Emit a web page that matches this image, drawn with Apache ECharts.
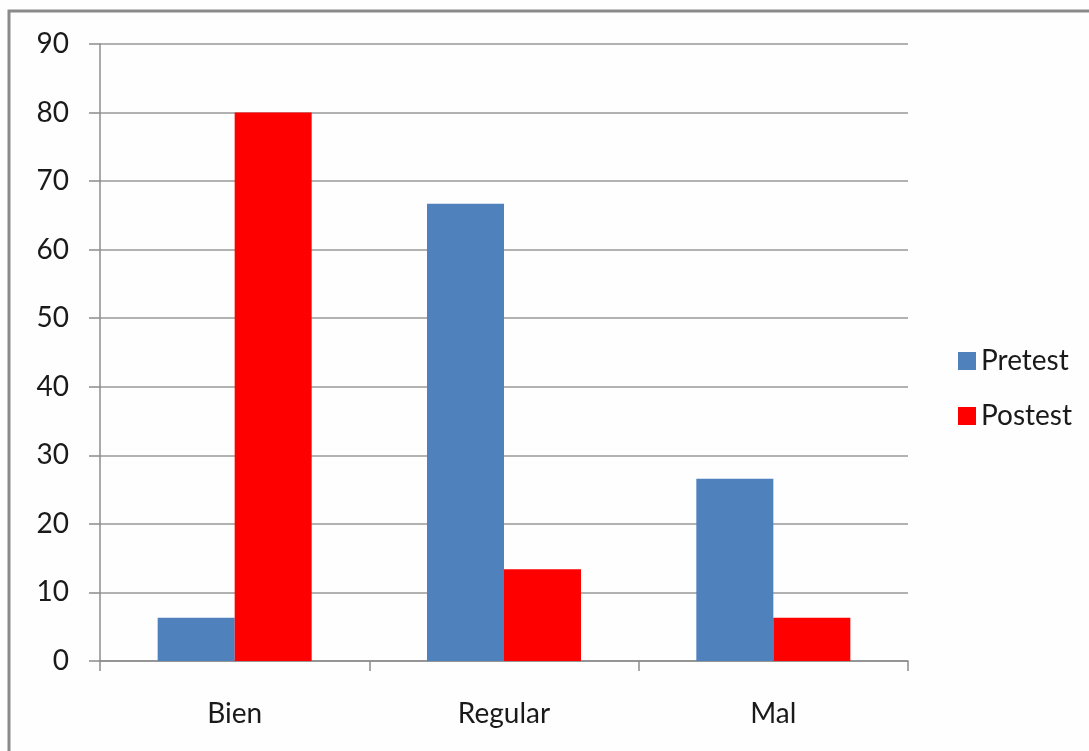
<!DOCTYPE html>
<html>
<head>
<meta charset="utf-8">
<script src="https://cdn.jsdelivr.net/npm/echarts@6/dist/echarts.min.js"></script>
<style>
  html, body { margin: 0; padding: 0; background: #fefefe; }
  #chart { width: 1089px; height: 751px; }
</style>
</head>
<body>
<div id="chart"></div>
<script>
// datos
const categories = ["Bien", "Regular", "Mal"];
const pretest = [6.3, 66.7, 26.6];
const postest = [80, 13.4, 6.3];
const yTicks = { min: 0, max: 90, interval: 10 };

const chart = echarts.init(document.getElementById("chart"));
const font = "Lato, 'Open Sans', sans-serif";

const option = {
  backgroundColor: "#fefefe",
  animation: false,
  // marco exterior
  graphic: [
    {
      type: "rect",
      shape: { x: 9, y: 11, width: 1100, height: 760 },
      style: { fill: "none", stroke: "#8a8a8a", lineWidth: 3 },
    },
  ],
  legend: {
    orient: "vertical",
    left: 953,
    top: 342,
    itemWidth: 18,
    itemHeight: 18,
    itemGap: 27,
    icon: "rect",
    textStyle: {
      fontFamily: font,
      fontSize: 28,
      color: "#1a1a1a",
    },
    data: ["Pretest", "Postest"],
  },
  grid: {
    left: 100,
    top: 44,
    right: 181,
    bottom: 90,
  },
  xAxis: {
    type: "category",
    data: categories,
    axisLine: { lineStyle: { color: "#8c8c8c", width: 1.5 } },
    axisTick: { show: true, length: 10, lineStyle: { color: "#8c8c8c", width: 1.5 } },
    axisLabel: {
      margin: 39,
      fontFamily: font,
      fontSize: 28,
      color: "#1a1a1a",
    },
  },
  yAxis: {
    type: "value",
    min: yTicks.min,
    max: yTicks.max,
    interval: yTicks.interval,
    axisLine: { show: true, lineStyle: { color: "#8c8c8c", width: 1.5 } },
    axisTick: { show: true, length: 11, lineStyle: { color: "#8c8c8c", width: 1.5 } },
    splitLine: { lineStyle: { color: "#999999", width: 1.5 } },
    axisLabel: {
      margin: 31,
      fontFamily: font,
      fontSize: 28,
      color: "#1a1a1a",
    },
  },
  series: [
    {
      name: "Pretest",
      type: "bar",
      data: pretest,
      barWidth: 77,
      barGap: "0%",
      itemStyle: { color: "#4f81bd" },
    },
    {
      name: "Postest",
      type: "bar",
      data: postest,
      barWidth: 77,
      itemStyle: { color: "#ff0000" },
    },
  ],
};

chart.setOption(option);
</script>
</body>
</html>
